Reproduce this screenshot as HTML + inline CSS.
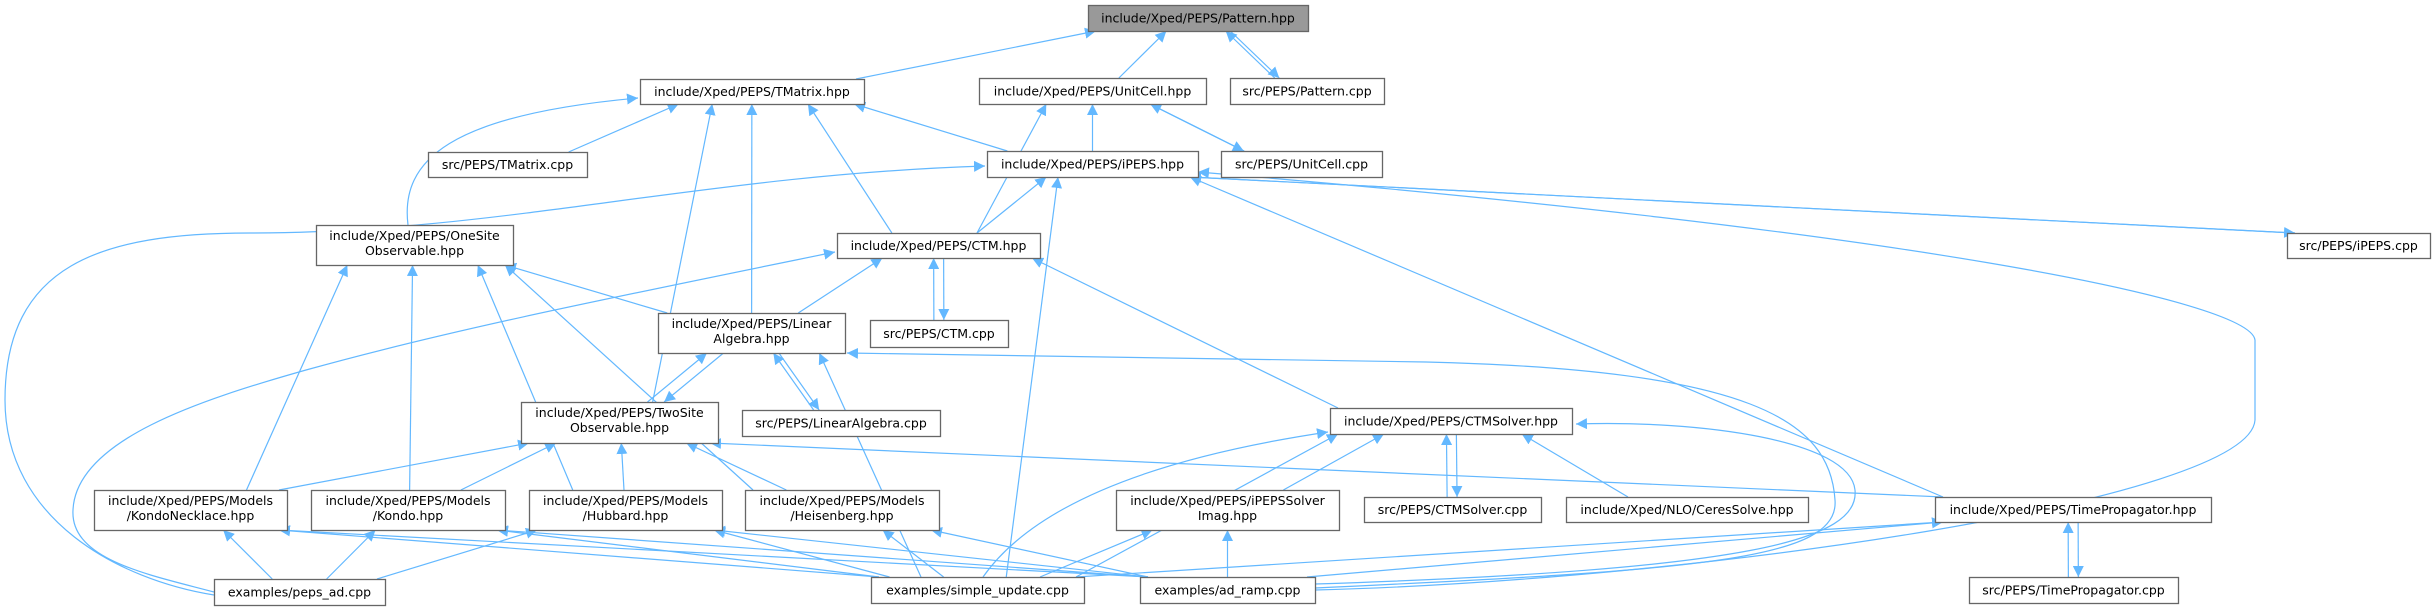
<!DOCTYPE html>
<html><head><meta charset="utf-8"><style>
html,body{margin:0;padding:0;background:#fff;}
svg{display:block;}
text{font-family:"DejaVu Sans","Liberation Sans",sans-serif;font-size:12.5px;fill:#000;}
</style></head><body>
<svg id="g" width="2433" height="608" viewBox="0 0 2433 608" xmlns="http://www.w3.org/2000/svg">
<defs><marker id="a" viewBox="0 0 10 10" refX="10" refY="5" markerWidth="11" markerHeight="11" markerUnits="userSpaceOnUse" orient="auto"><path d="M0,0 L10,5 L0,10 z" fill="#63b8ff"/></marker></defs>
<g id="e" fill="none" stroke="#63b8ff" stroke-width="1.2"></g>
<g id="n"></g>
</svg>
<script>
var N={
P:[1088,5,1308,31,["include/Xped/PEPS/Pattern.hpp"]],
TM:[640,79,864,104,["include/Xped/PEPS/TMatrix.hpp"]],
UC:[979,78,1206,104,["include/Xped/PEPS/UnitCell.hpp"]],
PC:[1230,78,1384,104,["src/PEPS/Pattern.cpp"]],
TMC:[428,152,587,177,["src/PEPS/TMatrix.cpp"]],
IP:[987,151,1198,177,["include/Xped/PEPS/iPEPS.hpp"]],
UCC:[1221,151,1382,177,["src/PEPS/UnitCell.cpp"]],
OS:[316,225,513,265,["include/Xped/PEPS/OneSite","Observable.hpp"]],
CTM:[837,233,1040,258,["include/Xped/PEPS/CTM.hpp"]],
IPC:[2287,233,2430,258,["src/PEPS/iPEPS.cpp"]],
LA:[658,313,845,353,["include/Xped/PEPS/Linear","Algebra.hpp"]],
CTMC:[870,320,1008,347,["src/PEPS/CTM.cpp"]],
TS:[521,402,718,443,["include/Xped/PEPS/TwoSite","Observable.hpp"]],
LAC:[742,410,940,436,["src/PEPS/LinearAlgebra.cpp"]],
CS:[1330,408,1572,434,["include/Xped/PEPS/CTMSolver.hpp"]],
KN:[94,490,287,530,["include/Xped/PEPS/Models","/KondoNecklace.hpp"]],
K:[311,490,505,530,["include/Xped/PEPS/Models","/Kondo.hpp"]],
H:[529,490,722,530,["include/Xped/PEPS/Models","/Hubbard.hpp"]],
HB:[745,490,939,530,["include/Xped/PEPS/Models","/Heisenberg.hpp"]],
IS:[1116,490,1339,530,["include/Xped/PEPS/iPEPSSolver","Imag.hpp"]],
CSC:[1364,497,1541,522,["src/PEPS/CTMSolver.cpp"]],
CE:[1566,497,1808,522,["include/Xped/NLO/CeresSolve.hpp"]],
TP:[1935,497,2211,522,["include/Xped/PEPS/TimePropagator.hpp"]],
PA:[214,579,385,605,["examples/peps_ad.cpp"]],
SU:[871,577,1084,603,["examples/simple_update.cpp"]],
AR:[1140,577,1315,603,["examples/ad_ramp.cpp"]],
TPC:[1969,577,2178,603,["src/PEPS/TimePropagator.cpp"]]
};
var E=[["P","TM"],["P","UC"],["P","PC",-5],["PC","P",5],
["TM","TMC"],["TM","LA"],["TM","TS"],["TM","CTM"],["TM","IP"],
["UC","IP"],["UC","CTM"],["UC","UCC",-5],["UCC","UC",5],
["IP","CTM"],["IP","SU"],["IP","TP"],["IP","IPC",-4],["IPC","IP",4],
["CTM","LA"],["CTM","CS"],["CTM","CTMC",-5],["CTMC","CTM",5],
["OS","LA"],["OS","KN"],["OS","K"],["OS","H"],["OS","HB"],
["LA","TS",-5],["TS","LA",5],["LA","SU"],["LA","LAC",-5],["LAC","LA",5],
["TS","KN"],["TS","K"],["TS","H"],["TS","HB"],["TS","TP"],
["CS","IS"],["CS","CSC",-5],["CSC","CS",5],["CS","CE"],["CS","SU"],
["KN","PA"],["KN","SU"],["KN","AR"],["K","PA"],["K","SU"],["K","AR"],
["H","PA"],["H","SU"],["H","AR"],["HB","SU"],["HB","AR"],
["IS","SU"],["IS","AR"],["TP","SU"],["TP","AR"],["TP","TPC",-5],["TPC","TP",5]];
var S="http://www.w3.org/2000/svg",eg=document.getElementById("e"),ng=document.getElementById("n");
function c(b){return[(b[0]+b[2])/2,(b[1]+b[3])/2];}
function clamp(v,a,b){return Math.max(a,Math.min(b,v));}
function P(d){var p=document.createElementNS(S,"path");p.setAttribute("d",d);p.setAttribute("marker-end","url(#a)");eg.appendChild(p);}
E.forEach(function(e){var t=N[e[0]],s=N[e[1]],o=e[2]||0,ct=c(t),cs=c(s),sx,sy,tx,ty;
 if(s[1]>t[3]){sy=s[1];ty=t[3];sx=clamp(cs[0]+(ct[0]-cs[0])*0.25+o,s[0]+8,s[2]-8);tx=clamp(ct[0]+(cs[0]-ct[0])*0.3+o,t[0]+8,t[2]-8);}
 else if(t[1]>s[3]){sy=s[3];ty=t[1];sx=clamp(cs[0]+(ct[0]-cs[0])*0.25+o,s[0]+8,s[2]-8);tx=clamp(ct[0]+(cs[0]-ct[0])*0.3+o,t[0]+8,t[2]-8);}
 else{sy=cs[1];ty=ct[1];sx=cs[0]<ct[0]?s[2]:s[0];tx=cs[0]<ct[0]?t[0]:t[2];}
 P("M"+sx+","+sy+" L"+tx+","+ty);});
// long curved edges
P("M408,225 C400,160 450,115 638,98");
P("M214,592 C150,575 70,560 73,510 C76,440 200,400 306,370 C450,330 600,300 835,252");
P("M214,595 C120,580 5,520 5,400 C5,265 100,233 250,233 C500,233 700,175 985,166");
P("M1315,590 C1700,580 2250,500 2255,420 L2255,340 C2250,300 1900,230 1198,172");
P("M1315,588 C1700,570 1840,560 1835,500 C1830,420 1750,370 1426,362 C1100,356 900,355 847,353");
P("M1315,584 C1750,570 1860,540 1855,490 C1850,440 1700,420 1576,424");
P("M983,577 C1030,510 1140,460 1328,432");
for(var k in N){var b=N[k],r=document.createElementNS(S,"rect");
 r.setAttribute("x",b[0]+.5);r.setAttribute("y",b[1]+.5);r.setAttribute("width",b[2]-b[0]);r.setAttribute("height",b[3]-b[1]);
 r.setAttribute("fill",k=="P"?"#999999":"#fff");r.setAttribute("stroke","#666");r.setAttribute("stroke-width","1.3");ng.appendChild(r);
 var L=b[4],h=b[3]-b[1],cx=(b[0]+b[2])/2;
 L.forEach(function(s,i){var t=document.createElementNS(S,"text");t.setAttribute("x",cx);t.setAttribute("text-anchor","middle");
  var y=L.length==1?b[1]+h/2+4.5:b[1]+15+i*15;t.setAttribute("y",y);t.textContent=s;ng.appendChild(t);
  var w=t.getComputedTextLength?t.getComputedTextLength():0;var mw=(b[2]-b[0])-18;if(w>mw){t.setAttribute("textLength",mw);t.setAttribute("lengthAdjust","spacingAndGlyphs");}
 });}
</script>
</body></html>
